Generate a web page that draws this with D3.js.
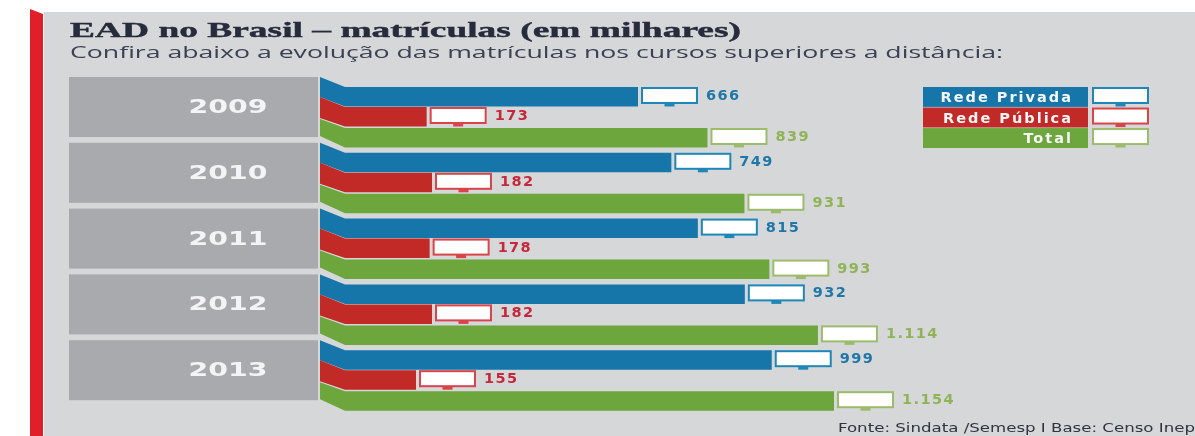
<!DOCTYPE html>
<html>
<head>
<meta charset="utf-8">
<script src="https://cdn.jsdelivr.net/npm/d3@7"></script>
<style>
  html, body { margin: 0; padding: 0; background: #fff; overflow: hidden; }
  svg { display: block; filter: blur(0.5px); }
</style>
</head>
<body>
<div id="chart"></div>
<script>
const years = ["2009", "2010", "2011", "2012", "2013"];
const redePrivada = [666, 749, 815, 932, 999];
const redePublica = [173, 182, 178, 182, 155];
const total = [839, 931, 993, 1114, 1154];
const seriesNames = ["Rede Privada", "Rede Pública", "Total"];

const width = 1195, height = 436;
const colors = ["#1676a9", "#c22a27", "#6ca63c"];
const labelColors = ["#1f77a8", "#c4283a", "#8fb356"];
const iconBorders = ["#1f86b8", "#d9444a", "#9dbb6c"];

const svg = d3.select("#chart").append("svg")
    .attr("width", width)
    .attr("height", height);

svg.append("rect")
    .attr("x", 44).attr("y", 12)
    .attr("width", width - 44).attr("height", height - 12)
    .attr("fill", "#d6d7d9");

svg.append("path")
    .attr("d", "M30,9L43,14V436H30Z")
    .attr("fill", "#e01f2a");

svg.append("text")
    .attr("x", 70).attr("y", 37)
    .attr("textLength", 671)
    .attr("lengthAdjust", "spacingAndGlyphs")
    .attr("font-family", "Liberation Serif")
    .attr("font-weight", "bold")
    .attr("font-size", 21)
    .attr("stroke", "#262c3c")
    .attr("stroke-width", 0.4)
    .attr("fill", "#262c3c")
    .text("EAD no Brasil – matrículas (em milhares)");

svg.append("text")
    .attr("x", 70).attr("y", 58)
    .attr("textLength", 933)
    .attr("lengthAdjust", "spacingAndGlyphs")
    .attr("font-family", "Open Sans")
    .attr("font-size", 16)
    .attr("fill", "#3a4152")
    .text("Confira abaixo a evolução das matrículas nos cursos superiores a distância:");

const yScale = d3.scaleBand()
    .domain(years)
    .range([77, 400.2])
    .paddingInner(0.088);

// the printed bars are not quite to scale, so the scale bends through a few read points
const xScale = d3.scaleLinear()
    .domain([155, 182, 666, 1154])
    .range([416, 432, 638, 834]);

const barX = 320, notch = 25, barH = 19.5;
const slotTop = [10, 30, 51];       // bar top inside a row
const tailTop = [0, 20, 42];        // left end top
const tailBottom = [20, 41, 59];    // left end bottom

const fmt = d3.formatLocale({ decimal: ",", thousands: ".", grouping: [3], currency: ["", ""] }).format(",");

const rows = svg.selectAll(".row")
    .data(years)
    .join("g")
    .attr("class", "row")
    .attr("transform", d => `translate(0,${yScale(d)})`);

rows.append("rect")
    .attr("x", 69).attr("y", 0)
    .attr("width", 249).attr("height", yScale.bandwidth())
    .attr("fill", "#a9aaad");

rows.append("text")
    .attr("x", 228).attr("y", 36)
    .attr("text-anchor", "middle")
    .attr("textLength", 79)
    .attr("lengthAdjust", "spacingAndGlyphs")
    .attr("font-family", "DejaVu Sans")
    .attr("font-weight", "bold")
    .attr("font-size", 19)
    .attr("fill", "#f4f4f4")
    .text(d => d);

function drawIcon(g, x, y, w, s) {
    g.append("rect")
        .attr("x", x + w / 2 - 5).attr("y", y + 16)
        .attr("width", 10).attr("height", 3.5)
        .attr("fill", iconBorders[s]);
    g.append("rect")
        .attr("x", x + 1).attr("y", y + 1)
        .attr("width", w - 2).attr("height", 15)
        .attr("fill", "#fff")
        .attr("stroke", iconBorders[s])
        .attr("stroke-width", 2);
}

[redePrivada, redePublica, total].forEach((values, s) => {
    rows.each(function(year, i) {
        const g = d3.select(this);
        const end = xScale(values[i]);
        const top = slotTop[s];
        g.append("path")
            .attr("class", "bar")
            .attr("d", `M${barX},${tailTop[s]}L${barX + notch},${top}H${end}V${top + barH}H${barX + notch}L${barX},${tailBottom[s]}Z`)
            .attr("fill", colors[s]);
        drawIcon(g, end + 3, top, 57, s);
        g.append("text")
            .attr("x", end + 68).attr("y", top + 13)
            .attr("font-family", "DejaVu Sans")
            .attr("font-weight", "bold")
            .attr("font-size", 14.5)
            .attr("letter-spacing", 1.4)
            .attr("fill", labelColors[s])
            .text(fmt(values[i]));
    });
});

const legendY = d3.scaleBand()
    .domain(seriesNames)
    .range([87, 148])
    .paddingInner(0.03);

const legend = svg.selectAll(".legend")
    .data(seriesNames)
    .join("g")
    .attr("class", "legend")
    .attr("transform", d => `translate(0,${legendY(d)})`);

legend.append("rect")
    .attr("x", 923).attr("y", 0)
    .attr("width", 165).attr("height", legendY.bandwidth())
    .attr("fill", (d, i) => colors[i]);

legend.append("text")
    .attr("x", 1073).attr("y", 15)
    .attr("text-anchor", "end")
    .attr("font-family", "DejaVu Sans")
    .attr("font-weight", "bold")
    .attr("font-size", 14.5)
    .attr("letter-spacing", 2)
    .attr("fill", "#f6f6f6")
    .text(d => d);

legend.each(function(d, i) {
    drawIcon(d3.select(this), 1092, 0, 57, i);
});

svg.append("text")
    .attr("x", 838).attr("y", 432)
    .attr("textLength", 357)
    .attr("lengthAdjust", "spacingAndGlyphs")
    .attr("font-family", "DejaVu Sans")
    .attr("font-size", 11.5)
    .attr("fill", "#2f3440")
    .text("Fonte: Sindata /Semesp I Base: Censo Inep");
</script>
</body>
</html>
